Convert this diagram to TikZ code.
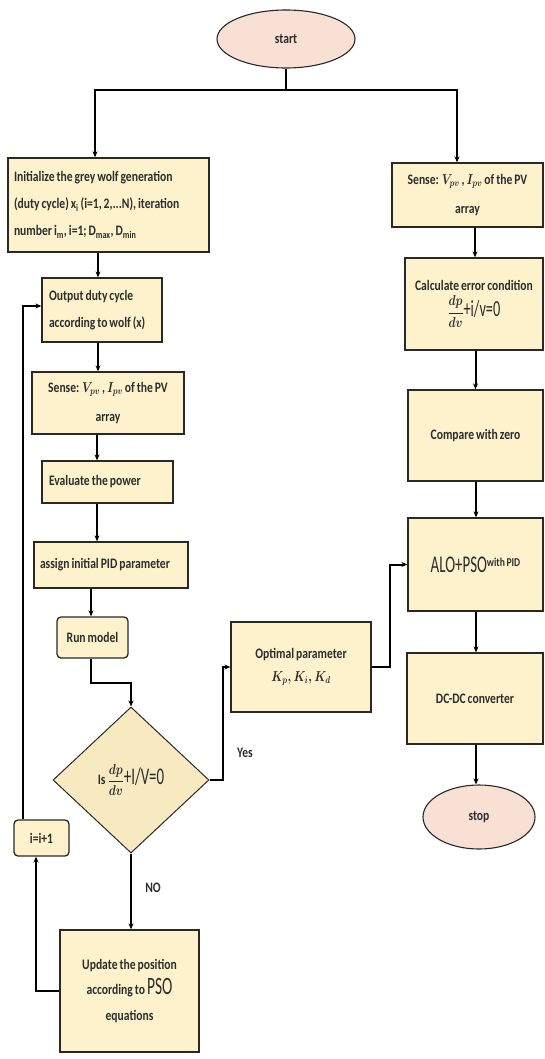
\documentclass[tikz,border=0pt]{standalone}
\usepackage{fontspec}
\setmainfont{Carlito}[FakeStretch=0.8, WordSpace=0.75]
\newfontfamily\cndfont{Carlito}[FakeStretch=0.62]
\usepackage{graphicx}
\usetikzlibrary{shapes.geometric,arrows.meta}
\definecolor{boxfill}{RGB}{254,242,204}
\definecolor{ovalfill}{RGB}{248,224,212}
\definecolor{diafill}{RGB}{248,234,192}
\definecolor{edgec}{RGB}{40,40,40}
\definecolor{txt}{RGB}{45,45,45}
\newcommand\cnd[2]{{\fontsize{#1}{#1}\selectfont\cndfont\mdseries #2}}
\newcommand\mth[1]{\scalebox{0.8}[1]{$#1$}}
\begin{document}
\begin{tikzpicture}[x=1pt,y=-1pt,
  every node/.style={font=\fontsize{14.5}{27}\selectfont\bfseries\boldmath, text=txt},
  box/.style={draw=edgec, line width=1.3pt, fill=boxfill, rectangle, inner sep=0pt, align=center},
  lbox/.style={box, align=flush left, inner xsep=7pt},
  rbox/.style={box, rounded corners=4pt},
  oval/.style={draw=edgec, line width=1.1pt, fill=ovalfill, ellipse, inner sep=0pt},
  decision/.style={draw=edgec, line width=1pt, fill=diafill, diamond, inner sep=0pt},
  conn/.style={line width=2pt, black},
  arr/.style={conn, -{Stealth[length=6pt,width=5pt]}},
  lbl/.style={font=\fontsize{14.5}{15}\selectfont\bfseries}
]
\useasboundingbox (0,0) rectangle (544,1059);

% left column
\node[oval, minimum width=138, minimum height=58] (start) at (286,39) {start};
\node[lbox, minimum width=201, minimum height=94, text width=189, inner xsep=6pt] (init) at (108.5,205)
  {Initialize the grey wolf generation\\(duty cycle) x\textsubscript{i} (i=1, 2,...N), iteration\\number i\textsubscript{m}, i=1; D\textsubscript{max}, D\textsubscript{min}};
\node[lbox, minimum width=120, minimum height=64, text width=110, inner xsep=5pt] (output) at (102,310)
  {\hspace*{2pt}Output duty cycle\\\hspace*{2pt}according to wolf (x)};
\node[box, minimum width=152, minimum height=62, font=\fontsize{14.5}{29}\selectfont\bfseries\boldmath] (senseL) at (108,403)
  {Sense: \mth{V_{pv}} , \mth{I_{pv}} of the PV\\array};
\node[lbox, minimum width=131, minimum height=42, text width=117] (eval) at (107.5,482)
  {Evaluate the power};
\node[lbox, minimum width=154, minimum height=46, text width=146, inner xsep=4pt] (assign) at (111,565)
  {\hspace*{2pt}assign initial PID parameter};
\node[rbox, minimum width=71, minimum height=41] (run) at (92.5,637.5) {Run model};
\node[decision, minimum width=156, minimum height=146] (dia) at (131,780)
  {Is\,\mth{\displaystyle\frac{dp}{dv}}\cnd{24}{+I/V=0}};
\node[rbox, minimum width=55, minimum height=36] (inc) at (41.5,838) {i=i+1};
\node[box, minimum width=139, minimum height=122, font=\fontsize{14.5}{25.5}\selectfont\bfseries] (update) at (129.5,991)
  {Update the position\\according to \cnd{25}{PSO}\\equations};
\node[box, minimum width=140, minimum height=90] (optimal) at (301,667)
  {Optimal parameter\\[-4pt]\mth{K_p, K_i, K_d}};

% right column
\node[box, minimum width=151, minimum height=64, font=\fontsize{14.5}{29}\selectfont\bfseries\boldmath] (senseR) at (467.5,195)
  {Sense: \mth{V_{pv}} , \mth{I_{pv}} of the PV\\array};
\node[box, minimum width=138, minimum height=92, font=\fontsize{14.5}{16}\selectfont\bfseries\boldmath] (calc) at (474,304)
  {Calculate error condition\\[4pt]\mth{\displaystyle\frac{dp}{dv}}\cnd{23}{+i/v=0}};
\node[box, minimum width=135, minimum height=91] (compare) at (475.5,435.5) {Compare with zero};
\node[box, minimum width=135, minimum height=93] (alo) at (475.5,564.5)
  {\cnd{24}{ALO+PSO}\raisebox{6pt}{\fontsize{12}{12}\selectfont with PID}};
\node[box, minimum width=136, minimum height=91] (dcdc) at (475,698.5) {DC-DC converter};
\node[oval, minimum width=112, minimum height=64] (stop) at (479,817) {stop};

% labels
\node[lbl] (yes) at (245,753) {Yes};
\node[lbl] (no) at (153,888) {NO};

% connectors
\coordinate (j) at (286,90);
\draw[conn] (start.south) -- (j);
\draw[arr] (j) -| ([xshift=-13.5pt]init.north);
\draw[arr] (j) -| ([xshift=-10.5pt]senseR.north);
\draw[arr] ([xshift=-10.5pt]init.south) -- ([xshift=-10.5pt]init.south |- output.north);
\draw[arr] ([xshift=-4pt]output.south) -- ([xshift=-4pt]output.south |- senseL.north);
\draw[arr] ([xshift=-11pt]senseL.south) -- ([xshift=-11pt]senseL.south |- eval.north);
\draw[arr] ([xshift=-10.5pt]eval.south) -- ([xshift=-10.5pt]eval.south |- assign.north);
\draw[arr] ([xshift=-20pt]assign.south) -- ([xshift=-20pt]assign.south |- run.north);
\draw[arr] ([xshift=-1.5pt]run.south) -- ++(0,24) -| (dia.north);
\draw[arr] (dia.south) -- (dia.south |- update.north);
\draw[arr] (dia.east) -- ++(13,0) |- (optimal.west);
\draw[arr] (optimal.east) -- ++(18,0) |- (alo.west);
\draw[arr] ([xshift=7.5pt]senseR.south) -- ([xshift=7.5pt]senseR.south |- calc.north);
\draw[arr] ([xshift=1.5pt]calc.south) -- ([xshift=1.5pt]calc.south |- compare.north);
\draw[arr] ([xshift=0.5pt]compare.south) -- ([xshift=0.5pt]compare.south |- alo.north);
\draw[arr] ([xshift=0.5pt]alo.south) -- ([xshift=0.5pt]alo.south |- dcdc.north);
\draw[arr] ([xshift=1pt]dcdc.south) -- ([xshift=1pt]dcdc.south |- stop.north);
\draw[arr] (update.west) -| ([xshift=-5.5pt]inc.south);
\draw[arr] ([xshift=-18.5pt]inc.north) |- ([yshift=4pt]output.west);
\end{tikzpicture}
\end{document}
